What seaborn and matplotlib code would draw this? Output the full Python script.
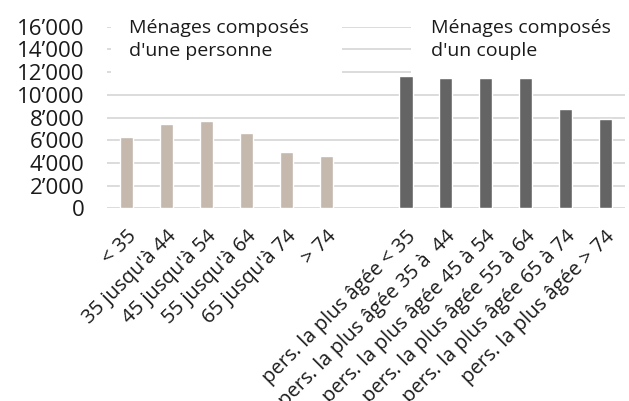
import pandas as pd
import numpy as np
import matplotlib
matplotlib.use("Agg")
import matplotlib.pyplot as plt
import matplotlib.ticker as mticker
from matplotlib.patches import Rectangle
import seaborn as sns

# Categories (the empty one is the gap between the two groups)
single_labels = ["< 35", "35 jusqu'à 44", "45 jusqu'à 54", "55 jusqu'à 64",
                 "65 jusqu'à 74", "> 74"]
couple_labels = ["pers. la plus âgée < 35", "pers. la plus âgée 35 à  44",
                 "pers. la plus âgée 45 à 54", "pers. la plus âgée 55 à 64",
                 "pers. la plus âgée 65 à 74", "pers. la plus âgée > 74"]
single_values = [6300, 7400, 7700, 6600, 5000, 4600]
couple_values = [11700, 11500, 11500, 11500, 8750, 7900]
group_names = ["Ménages composés\nd'une personne", "Ménages composés\nd'un couple"]
gap_label = ""

order = single_labels + [gap_label] + couple_labels
df = pd.DataFrame({
    "categorie": single_labels + couple_labels,
    "valeur": single_values + couple_values,
    "groupe": [group_names[0]] * len(single_labels) + [group_names[1]] * len(couple_labels),
})

sns.set_theme(style="white")
plt.rcParams["font.family"] = ["Open Sans", "DejaVu Sans"]

fig = plt.figure(figsize=(6.29, 4.01), dpi=100)
ax = fig.add_axes([0.170, 0.4805, 0.824, 0.4529])

sns.barplot(data=df, x="categorie", y="valeur", hue="groupe", order=order,
            palette=["#C9B8A8", "#646464"], dodge=False, width=0.33,
            legend=False, ax=ax, zorder=2)

ax.set_ylim(0, 16000)
ax.set_xlim(-0.5, len(order) - 0.5)
ax.set_yticks(np.arange(0, 16001, 2000))
ax.yaxis.set_major_formatter(mticker.FuncFormatter(lambda v, p: f"{v:,.0f}".replace(",", "’")))
ax.grid(axis="y", color="#D9D9D9", linewidth=1.3)
ax.set_axisbelow(True)
for s in ax.spines.values():
    s.set_visible(False)
ax.set_xlabel("")
ax.set_ylabel("")
ax.tick_params(axis="y", length=0, pad=16, labelsize=16, labelcolor="#1a1a1a")
ax.tick_params(axis="x", length=0, pad=13, labelsize=14.5, labelcolor="#1a1a1a")
plt.setp(ax.get_xticklabels(), rotation=45, ha="right", rotation_mode="anchor")

# white label boxes hiding the upper gridlines
ax.add_patch(Rectangle((0.008, 0.742), 0.446, 0.4, transform=ax.transAxes,
                       facecolor="white", edgecolor="none", zorder=1.5, clip_on=False))
ax.add_patch(Rectangle((0.587, 0.742), 0.42, 0.4, transform=ax.transAxes,
                       facecolor="white", edgecolor="none", zorder=1.5, clip_on=False))
ax.text(0.0425, 1.04, group_names[0], transform=ax.transAxes, va="top", ha="left",
        fontsize=14, color="#1a1a1a", linespacing=1.35, zorder=3)
ax.text(0.625, 1.04, group_names[1], transform=ax.transAxes, va="top", ha="left",
        fontsize=14, color="#1a1a1a", linespacing=1.35, zorder=3)

fig.savefig("out.png", dpi=100)
